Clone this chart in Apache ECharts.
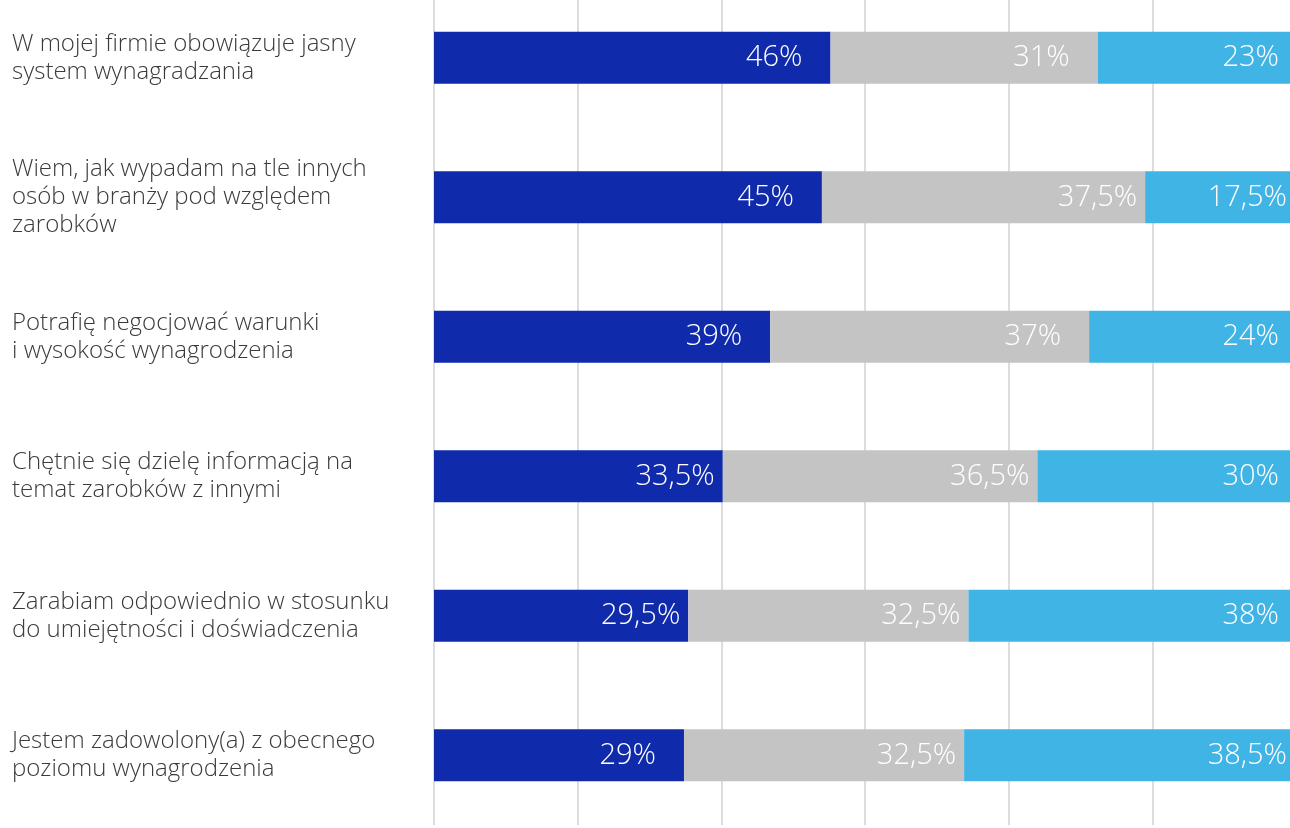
<!DOCTYPE html>
<html>
<head>
<meta charset="utf-8">
<script src="https://cdn.jsdelivr.net/npm/echarts@6/dist/echarts.min.js"></script>
<style>
html,body{margin:0;padding:0;background:#fff;}
#chart{width:1290px;height:828px;}
</style>
</head>
<body>
<div id="chart"></div>
<script>
const categories = [
  'W mojej firmie obowiązuje jasny\nsystem wynagradzania',
  'Wiem, jak wypadam na tle innych\nosób w branży pod względem\nzarobków',
  'Potrafię negocjować warunki\ni wysokość wynagrodzenia',
  'Chętnie się dzielę informacją na\ntemat zarobków z innymi',
  'Zarabiam odpowiednio w stosunku\ndo umiejętności i doświadczenia',
  'Jestem zadowolony(a) z obecnego\npoziomu wynagrodzenia'
];
const seriesA = [46, 45, 39, 33.5, 29.5, 29];
const seriesB = [31, 37.5, 37, 36.5, 32.5, 32.5];
const seriesC = [23, 17.5, 24, 30, 38, 38.5];

const fmt = v => String(v).replace('.', ',') + '%';
const FONT = '"Open Sans", "Noto Sans", sans-serif';

function makeSeries(name, values, color, shortDist, longDist) {
  return {
    name: name,
    type: 'bar',
    stack: 'total',
    barWidth: 52,
    itemStyle: { color: color },
    label: {
      show: true,
      position: 'insideRight',
      color: '#ffffff',
      fontFamily: FONT,
      fontWeight: 300,
      fontSize: 29,
      formatter: p => fmt(p.value)
    },
    data: values.map(v => ({
      value: v,
      label: { distance: fmt(v).length > 3 ? longDist : shortDist }
    }))
  };
}

const chart = echarts.init(document.getElementById('chart'));
chart.setOption({
  animation: false,
  grid: { left: 434, width: 862, top: -12, height: 837, containLabel: false, outerBoundsMode: 'none' },
  xAxis: {
    type: 'value',
    min: 0,
    max: 100,
    interval: 100 / 6,
    axisLabel: { show: false },
    axisLine: { show: false },
    axisTick: { show: false },
    splitLine: { show: true, lineStyle: { color: '#d2d2d2', width: 1.5 } }
  },
  yAxis: {
    type: 'category',
    inverse: true,
    data: categories,
    axisLine: { show: false },
    axisTick: { show: false },
    axisLabel: {
      align: 'left',
      margin: 422,
      color: '#3a3a3a',
      fontFamily: FONT,
      fontWeight: 300,
      fontSize: 24,
      lineHeight: 28
    }
  },
  series: [
    makeSeries('A', seriesA, '#0f2aab', 28, 8),
    makeSeries('B', seriesB, '#c4c4c4', 28, 8),
    makeSeries('C', seriesC, '#41b4e6', 17, 9)
  ]
});
</script>
</body>
</html>
